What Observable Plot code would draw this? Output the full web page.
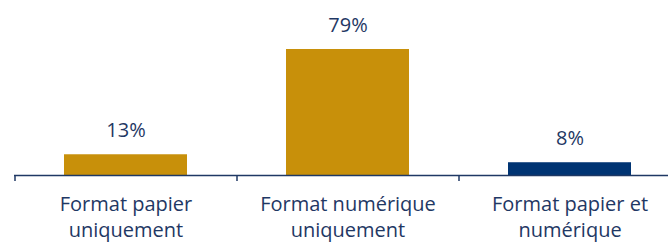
<!DOCTYPE html>
<html>
<head>
<meta charset="utf-8">
<script src="https://cdn.jsdelivr.net/npm/d3@7"></script>
<script src="https://cdn.jsdelivr.net/npm/@observablehq/plot@0.6"></script>
<style>
  html, body { margin: 0; padding: 0; background: #fff; overflow: hidden; }
  #chart svg { overflow: hidden; }
</style>
</head>
<body>
<div id="chart"></div>
<script>
const categories = ["Format papier uniquement", "Format numérique uniquement", "Format papier et numérique"];
const categoryLines = ["Format papier\nuniquement", "Format numérique\nuniquement", "Format papier et\nnumérique"];
const values = [13, 79, 8];
const valueLabels = ["13%", "79%", "8%"];
const barColors = ["#C8900A", "#C8900A", "#003473"];

const data = categories.map((c, i) => ({cat: c, value: values[i], label: valueLabels[i], lines: categoryLines[i]}));

const W = 668, H = 245;
const xRange = [14, 680];
const step = (xRange[1] - xRange[0]) / categories.length;
const textColor = "#1F3864";
const font = "'Open Sans', sans-serif";

const chart = Plot.plot({
  width: W,
  height: H,
  marginTop: 15.5,
  marginBottom: 70,
  marginLeft: 14,
  marginRight: 0,
  style: {fontFamily: font, background: "#fff"},
  x: {domain: categories, range: xRange, paddingInner: 0.446, paddingOuter: 0.223, axis: null},
  y: {domain: [0, 100], axis: null},
  color: {domain: categories, range: barColors},
  marks: [
    Plot.barY(data, {x: "cat", y: "value", fill: "cat"}),
    Plot.ruleY([0], {stroke: textColor, strokeWidth: 1.5}),
    Plot.ruleX(data, {x: "cat", y1: 0, y2: 0, insetBottom: -6, dx: -step / 2, stroke: textColor, strokeWidth: 1.5}),
    Plot.text(data, {x: "cat", y: "value", text: "label", dy: -24, lineAnchor: "middle", fill: textColor, fontSize: 20, fontFamily: font}),
    Plot.text(data, {x: "cat", y: 0, text: "lines", dy: 17, lineAnchor: "top", lineHeight: 1.3, fill: textColor, fontSize: 20, fontFamily: font})
  ]
});
document.getElementById("chart").appendChild(chart);
</script>
</body>
</html>
